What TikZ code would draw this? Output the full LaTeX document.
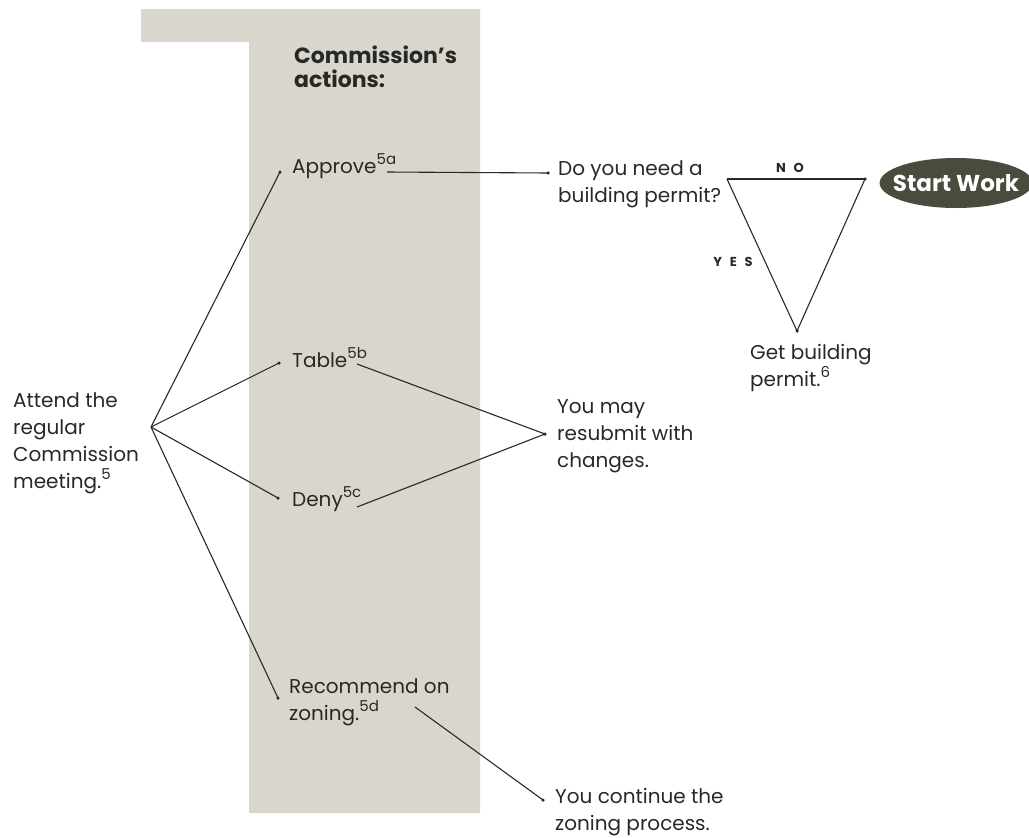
\documentclass[tikz,border=0pt]{standalone}
\usepackage{fontspec}
\setmainfont{Poppins}
\usetikzlibrary{shapes.geometric}
\definecolor{panel}{RGB}{217,215,205}
\definecolor{ink}{RGB}{40,40,38}
\definecolor{olive}{RGB}{74,75,60}
\newcommand{\sups}[1]{\raisebox{9pt}{\fontsize{15}{15}\selectfont #1}}
\begin{document}
\begin{tikzpicture}[x=1pt,y=-1pt,
  txt/.style={anchor=base west, align=left, text=ink, inner sep=0pt, font=\fontsize{20}{27}\selectfont},
  head/.style={anchor=base west, align=left, text=ink, inner sep=0pt, font=\fontsize{22}{24}\selectfont\bfseries},
  dot/.style={circle, fill=ink, inner sep=0pt, minimum size=3.5pt},
  link/.style={draw=ink, line width=1.1pt},
  lbl/.style={text=ink, inner sep=0pt, font=\fontsize{13}{13}\selectfont\bfseries\addfontfeatures{LetterSpace=60}},
  pill/.style={ellipse, fill=olive, text=white, inner xsep=-9pt, inner ysep=0pt, minimum width=148pt, minimum height=50pt, font=\fontsize{23}{23}\selectfont\bfseries}]
\useasboundingbox (0,0) rectangle (1029,838);
% panel
\fill[panel] (141,9) -- (480,9) -- (480,813) -- (249,813) -- (249,42) -- (141,42) -- cycle;
% texts (multi-line nodes are anchored at the baseline of their last line)
\node[head] (heading) at (294,87) {Commission\symbol{"27}s\\actions:};
\node[txt] (attend) at (13,488) {Attend the\\regular\\Commission\\meeting.\sups{5}};
\node[txt] (approve) at (292,173) {Approve\sups{5a}};
\node[txt] (table) at (292,367) {Table\sups{5b}};
\node[txt] (deny) at (292,506) {Deny\sups{5c}};
\node[txt] (recommend) at (289,720) {Recommend on\\zoning.\sups{5d}};
\node[txt] (need) at (558,202) {Do you need a\\building permit?};
\node[txt] (resubmit) at (557,467) {You may\\resubmit with\\changes.};
\node[txt] (continue) at (555,830) {You continue the\\zoning process.};
\node[txt] (getpermit) at (750,386) {Get building\\permit.\sups{6}};
\node[pill] (start) at (956,183) {Start Work};
\node[lbl] (no) at (790,168) {NO};
\node[lbl] (yes) at (733,262) {YES};
% dots and coordinates
\coordinate (fan) at (151,427);
\node[dot] (dApprove) at (280,172) {};
\node[dot] (dTable) at (279,363) {};
\node[dot] (dDeny) at (278,498) {};
\node[dot] (dRecommend) at (278,698) {};
\node[dot] (dNeed) at (548,173) {};
\node[dot] (dResubmit) at (545,434) {};
\node[dot] (dContinue) at (543,800) {};
\node[dot] (dStart) at (865,179) {};
\node[dot] (dPermit) at (797,331) {};
\coordinate (approveOut) at (387,172);
\coordinate (tableOut) at (357,364);
\coordinate (denyOut) at (357,507);
\coordinate (recommendOut) at (415,707);
\coordinate (ask) at (727,179);
% connectors
\draw[link] (fan) -- (dApprove.center);
\draw[link] (fan) -- (dTable.center);
\draw[link] (fan) -- (dDeny.center);
\draw[link] (fan) -- (dRecommend.center);
\draw[link] (approveOut) -- (dNeed.center);
\draw[link] (tableOut) -- (dResubmit.center);
\draw[link] (denyOut) -- (dResubmit.center);
\draw[link] (recommendOut) -- (dContinue.center);
\draw[link] (ask) -- (dStart.center);
\draw[link] (ask) -- (dPermit.center);
\draw[link] (dPermit.center) -- (dStart.center);
\end{tikzpicture}
\end{document}
